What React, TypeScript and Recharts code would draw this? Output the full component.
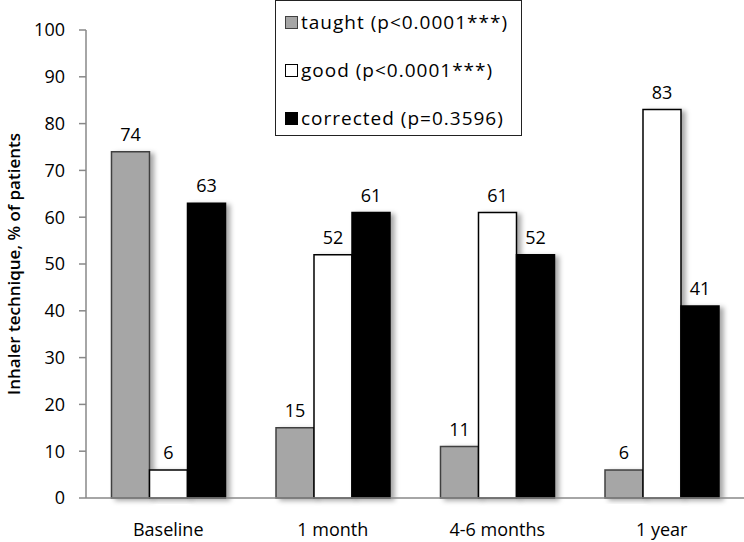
import React from "react";
import { BarChart, Bar, XAxis, YAxis, LabelList } from "recharts";

const categories = ["Baseline", "1 month", "4-6 months", "1 year"];
const taught = [74, 15, 11, 6];
const good = [6, 52, 61, 83];
const corrected = [63, 61, 52, 41];
const yTicks = [0, 10, 20, 30, 40, 50, 60, 70, 80, 90, 100];
const seriesNames = ["taught (p<0.0001***)", "good (p<0.0001***)", "corrected (p=0.3596)"];

const data = categories.map((c, i) => ({
  name: c,
  taught: taught[i],
  good: good[i],
  corrected: corrected[i],
}));

const FONT = "'Open Sans', 'Noto Sans', sans-serif";

const legendItems = [
  { name: seriesNames[0], fill: "#a6a6a6", stroke: "#404040" },
  { name: seriesNames[1], fill: "#ffffff", stroke: "#000000" },
  { name: seriesNames[2], fill: "#000000", stroke: "#000000" },
];

const LegendBox = () => (
  <div
    style={{
      position: "absolute",
      left: 275,
      top: 0,
      width: 247,
      height: 136,
      border: "1.5px solid #222",
      boxSizing: "border-box",
      background: "#fff",
      paddingLeft: 9,
      paddingTop: 7,
      fontFamily: FONT,
      fontSize: 19,
      letterSpacing: 1,
      color: "#000",
    }}
  >
    {legendItems.map((it, i) => (
      <div key={i} style={{ display: "flex", alignItems: "center", height: 28, marginBottom: i < 2 ? 20 : 0, whiteSpace: "nowrap" }}>
        <span
          style={{
            display: "inline-block",
            width: 13,
            height: 13,
            background: it.fill,
            border: `1.5px solid ${it.stroke}`,
            boxSizing: "border-box",
            marginRight: 3,
          }}
        />
        <span>{it.name}</span>
      </div>
    ))}
  </div>
);

const labelStyle = { fill: "#000", fontSize: 18, fontFamily: FONT };

export default function App() {
  return (
    <div style={{ position: "absolute", left: 0, top: 0, width: 744, height: 542, background: "#fff" }}>
      <BarChart
        width={744}
        height={542}
        data={data}
        margin={{ top: 30, right: 0, bottom: 0, left: 0 }}
        barCategoryGap="15.5%"
        barGap={0}
      >
        <defs>
          <filter id="shadow" x="-20%" y="-20%" width="160%" height="140%">
            <feDropShadow dx="4" dy="2" stdDeviation="2.5" floodColor="#000" floodOpacity="0.35" />
          </filter>
        </defs>
        <XAxis
          dataKey="name"
          height={44}
          tickLine={false}
          axisLine={{ stroke: "#888", strokeWidth: 1.5 }}
          tick={{ fill: "#000", fontSize: 18, fontFamily: FONT, dy: 17 }}
          interval={0}
        />
        <YAxis
          width={86}
          domain={[0, 100]}
          ticks={yTicks}
          interval={0}
          tickSize={7}
          tickMargin={14}
          tickLine={{ stroke: "#888", strokeWidth: 1.5 }}
          axisLine={{ stroke: "#888", strokeWidth: 1.5 }}
          tick={{ fill: "#000", fontSize: 18, fontFamily: FONT }}
          label={{
            value: "Inhaler technique, % of patients",
            angle: -90,
            position: "insideLeft",
            offset: 14,
            style: { textAnchor: "middle", fill: "#000", fontSize: 17, fontWeight: 600, fontFamily: FONT },
          }}
        />
        <Bar dataKey="taught" name={seriesNames[0]} fill="#a6a6a6" stroke="#404040" strokeWidth={1.5} filter="url(#shadow)" isAnimationActive={false}>
          <LabelList dataKey="taught" position="top" offset={11} style={labelStyle} />
        </Bar>
        <Bar dataKey="good" name={seriesNames[1]} fill="#ffffff" stroke="#000000" strokeWidth={1.5} filter="url(#shadow)" isAnimationActive={false}>
          <LabelList dataKey="good" position="top" offset={11} style={labelStyle} />
        </Bar>
        <Bar dataKey="corrected" name={seriesNames[2]} fill="#000000" stroke="#000000" strokeWidth={1.5} filter="url(#shadow)" isAnimationActive={false}>
          <LabelList dataKey="corrected" position="top" offset={11} style={labelStyle} />
        </Bar>
      </BarChart>
      <LegendBox />
    </div>
  );
}
